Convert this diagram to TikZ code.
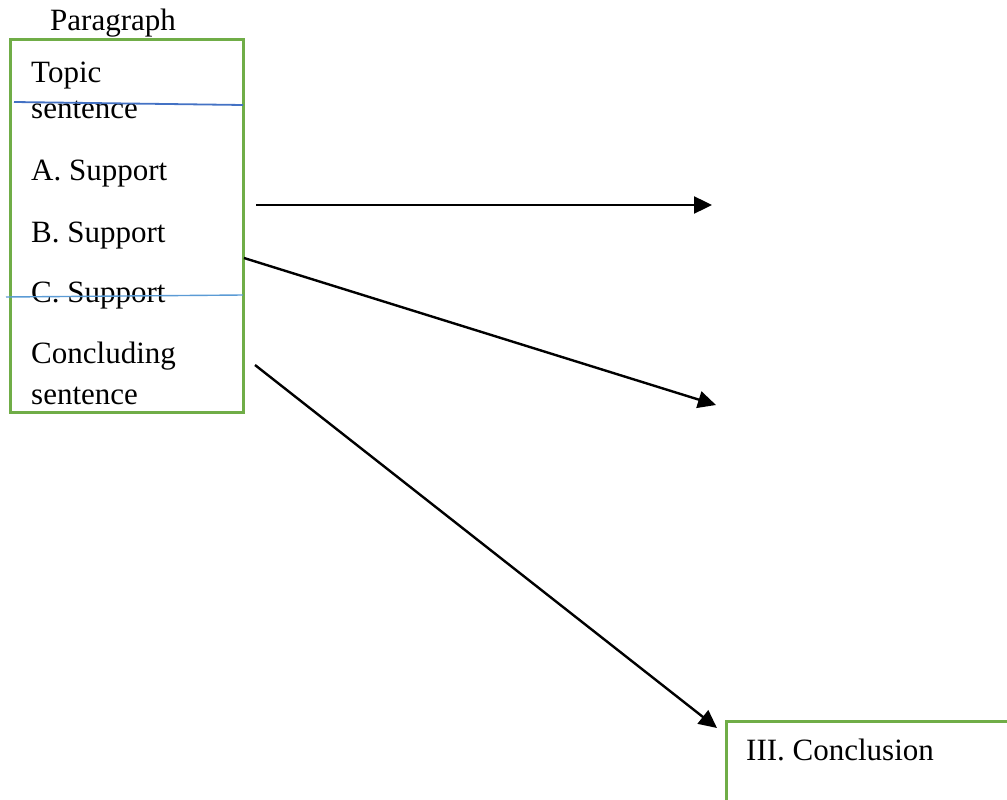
\documentclass[tikz,border=0pt]{standalone}
\usepackage{fontspec}
\setmainfont{Liberation Serif}
\usetikzlibrary{arrows.meta}
\definecolor{boxgreen}{HTML}{70AD47}
\definecolor{darkblue}{HTML}{4472C4}
\definecolor{lightblue}{HTML}{5B9BD5}
\tikzset{
  txt/.style={anchor=base west,inner sep=0pt,font=\fontsize{31}{36}\selectfont},
  box/.style={draw=boxgreen,line width=3pt,anchor=north west,inner sep=0pt,outer sep=0pt},
  arr/.style={line width=2.4pt,-{Triangle[length=18pt,width=17pt]}}
}
\begin{document}
\begin{tikzpicture}[x=1pt,y=-1pt]
\useasboundingbox (0,0) rectangle (1007,800);
\clip (0,0) rectangle (1007,800);

% left box and its lines
\node[txt](title) at (50,31){Paragraph};
\node[txt](topic) at (31,82){Topic};
\node[txt](topic2) at (31,118){sentence};
\node[txt](supa) at (31,180){A. Support};
\node[txt](supb) at (31,242){B. Support};
\node[txt](supc) at (31,302){C. Support};
\node[txt](concl) at (31,363){Concluding};
\node[txt](concl2) at (31,404){sentence};
\node[box,minimum width=233pt,minimum height=372pt](para) at (10,40){};
\draw[darkblue,line width=1.8pt] (14,102) -- (243,105);
\draw[lightblue,line width=1.4pt] (6,297) -- (243,295);

% right box
\node[box,minimum width=300pt,minimum height=100pt](end) at (726,721){};
\node[txt](endtxt) at (746,760){III. Conclusion};

% arrows
\coordinate (s1) at (256,205);
\coordinate (e1) at (712,205);
\coordinate (s2) at (244,258);
\coordinate (e2) at (716,405);
\coordinate (s3) at (255,365);
\coordinate (e3) at (717,728);
\draw[arr] (s1) -- (e1);
\draw[arr] (s2) -- (e2);
\draw[arr] (s3) -- (e3);
\end{tikzpicture}
\end{document}
